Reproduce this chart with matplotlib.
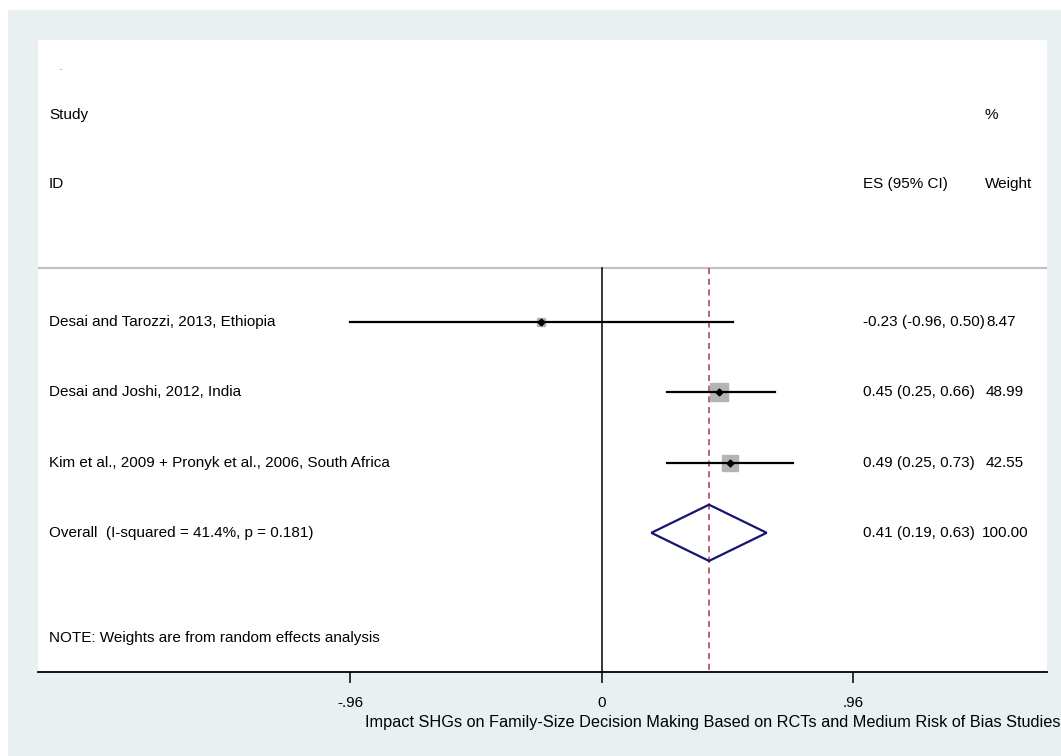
import matplotlib
matplotlib.use("Agg")
from matplotlib import pyplot as plt
from matplotlib.patches import Polygon, Rectangle
from matplotlib.transforms import blended_transform_factory

plt.rcParams['font.family'] = ['Liberation Sans', 'DejaVu Sans']

# studies
studies = ["Desai and Tarozzi, 2013, Ethiopia",
           "Desai and Joshi, 2012, India",
           "Kim et al., 2009 + Pronyk et al., 2006, South Africa"]
es = [-0.23, 0.45, 0.49]
lo = [-0.96, 0.25, 0.25]
hi = [0.50, 0.66, 0.73]
weights = [8.47, 48.99, 42.55]
es_labels = ["-0.23 (-0.96, 0.50)", "0.45 (0.25, 0.66)", "0.49 (0.25, 0.73)"]
wt_labels = ["8.47", "48.99", "42.55"]

# pooled
overall_label = "Overall  (I-squared = 41.4%, p = 0.181)"
overall_es, overall_lo, overall_hi = 0.41, 0.19, 0.63
overall_es_label = "0.41 (0.19, 0.63)"
overall_wt_label = "100.00"

xticks = [-0.96, 0, 0.96]
xtick_labels = ["-.96", "0", ".96"]
xtitle = "Impact SHGs on Family-Size Decision Making Based on RCTs and Medium Risk of Bias Studies"

W, H = 1061, 756
fig = plt.figure(figsize=(W / 100, H / 100), dpi=100)
fig.patch.set_facecolor("#e8f0f2")
# white strips top and left (outside the stata graph region)
fig.patches.append(Rectangle((0, 1 - 10 / H), 1, 10 / H, transform=fig.transFigure,
                             facecolor="white", edgecolor="none", zorder=-10))
fig.patches.append(Rectangle((0, 0), 8 / W, 1, transform=fig.transFigure,
                             facecolor="white", edgecolor="none", zorder=-10))

ax = fig.add_axes([38 / W, (H - 672) / H, (1047 - 38) / W, (672 - 40) / H])
ax.set_facecolor("white")
ax.set_xlim(-2.151, 1.700)
ax.set_ylim(5.98, -3.01)
for s in ["top", "left", "right"]:
    ax.spines[s].set_visible(False)
ax.spines["bottom"].set_linewidth(1.3)
ax.set_yticks([])
ax.set_xticks(xticks)
ax.set_xticklabels(xtick_labels, fontsize=11)
ax.tick_params(axis="x", length=8, width=1.1, pad=9)
ax.set_xlabel(xtitle, fontsize=11.7)
ax.xaxis.set_label_coords((365 - 38) / (1047 - 38), -0.08)
ax.xaxis.label.set_horizontalalignment("left")
ax.xaxis.label.set_verticalalignment("center")

fs = 11
bt = blended_transform_factory(ax.transAxes, ax.transData)
col_lab = (49 - 38) / (1047 - 38)
col_es = (863 - 38) / (1047 - 38)
col_wt = (986 - 38) / (1047 - 38)

ax.text(col_lab + 0.01, -2.6, ".", transform=bt, fontsize=5, va="center")
ax.text(col_lab, -1.94, "Study", transform=bt, fontsize=fs, va="center")
ax.text(col_lab, -0.96, "ID", transform=bt, fontsize=fs, va="center")
ax.text(col_es, -0.96, "ES (95% CI)", transform=bt, fontsize=fs, va="center")
ax.text(col_wt - 0.001, -1.94, "%", transform=bt, fontsize=fs, va="center")
ax.text(col_wt - 0.001, -0.96, "Weight", transform=bt, fontsize=fs, va="center")

ax.axhline(0.23, color="#c0c0c0", lw=1.6)
ax.plot([0, 0], [0.23, 5.98], color="black", lw=1.1)
ax.plot([overall_es, overall_es], [0.23, 5.98], color="#a8374a", lw=1.1,
        ls=(0, (4, 3)))

for i in range(len(studies)):
    y = i + 1
    ax.plot([lo[i], hi[i]], [y, y], color="black", lw=1.6, zorder=3)
    size = weights[i] ** 0.5 * 2.43 * 0.72
    ax.plot(es[i], y, marker="s", ms=size, color="#b4b4b4", mec="#b4b4b4", zorder=2)
    ax.plot(es[i], y, marker="D", ms=3.5, color="black", zorder=4)
    ax.text(col_lab, y, studies[i], transform=bt, fontsize=fs, va="center")
    ax.text(col_es, y, es_labels[i], transform=bt, fontsize=fs, va="center")
    ax.text(col_wt, y, wt_labels[i], transform=bt, fontsize=fs, va="center")

y = 4
dia = Polygon([[overall_lo, y], [overall_es, y - 0.4], [overall_hi, y], [overall_es, y + 0.4]],
              closed=True, facecolor="none", edgecolor="#141470", lw=1.6, zorder=3)
ax.add_patch(dia)
ax.text(col_lab, y, overall_label, transform=bt, fontsize=fs, va="center")
ax.text(col_es, y, overall_es_label, transform=bt, fontsize=fs, va="center")
ax.text(col_wt - 0.004, y, overall_wt_label, transform=bt, fontsize=fs, va="center")

ax.text(col_lab, 5.5, "NOTE: Weights are from random effects analysis", transform=bt,
        fontsize=fs, va="center")

fig.savefig("out.png", dpi=100, facecolor=fig.get_facecolor())
